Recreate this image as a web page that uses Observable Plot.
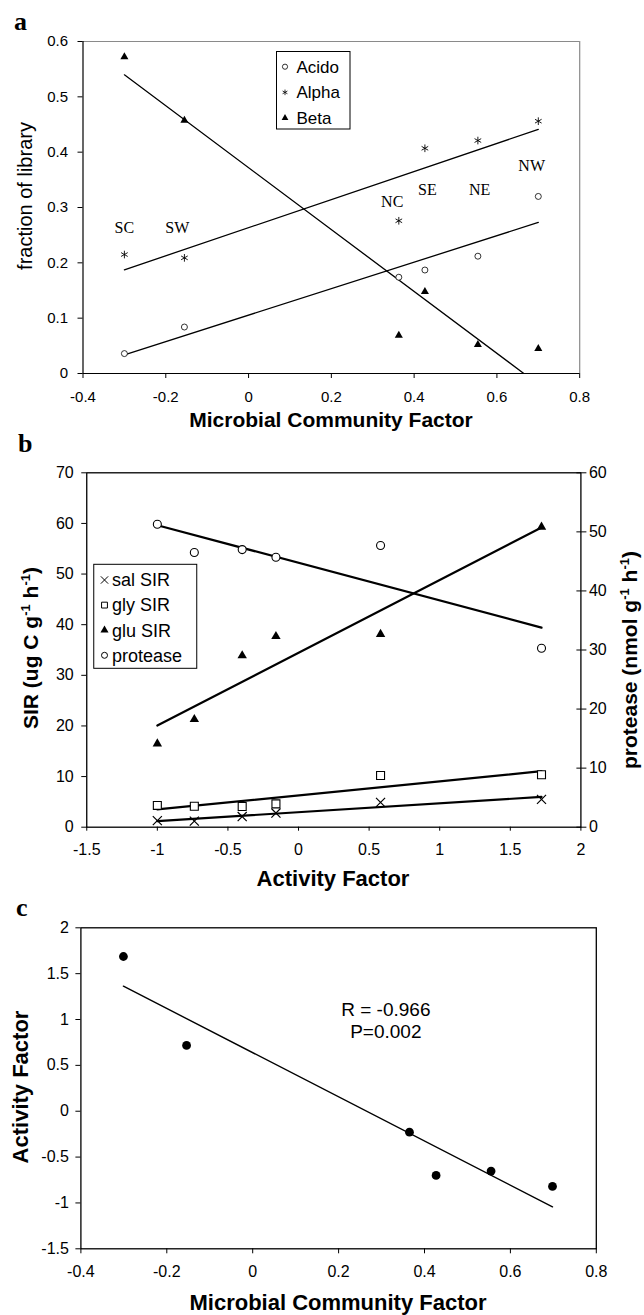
<!DOCTYPE html>
<html><head><meta charset="utf-8">
<script src="https://cdn.jsdelivr.net/npm/d3@7"></script>
<script src="https://cdn.jsdelivr.net/npm/@observablehq/plot@0.6"></script>
<style>
html,body{margin:0;padding:0;background:#fff;}
#fig{position:relative;width:644px;height:1315px;overflow:hidden;background:#fff;}
#fig svg{position:absolute;left:0;overflow:visible;}
</style></head><body><div id="fig"></div>
<script>
// ---------- Panel a data ----------
const mcfA = [-0.30, -0.155, 0.363, 0.426, 0.554, 0.70];
const acido = [0.036, 0.084, 0.174, 0.187, 0.212, 0.320];
const alpha = [0.215, 0.209, 0.276, 0.407, 0.421, 0.456];
const beta = [0.572, 0.4575, 0.069, 0.148, 0.052, 0.045];
const sites = ["SC", "SW", "NC", "SE", "NE", "NW"];
const siteLabelX = [-0.30, -0.172, 0.347, 0.432, 0.558, 0.684];
const siteLabelY = [0.263, 0.263, 0.310, 0.331, 0.331, 0.376];
const aXTicks = [-0.4, -0.2, 0, 0.2, 0.4, 0.6, 0.8];
const aYTicks = [0, 0.1, 0.2, 0.3, 0.4, 0.5, 0.6];
const aLegend = ["Acido", "Alpha", "Beta"];

// ---------- Panel b data ----------
const activity = [-1.0, -0.738, -0.399, -0.16, 0.581, 1.721];
const salSIR = [1.3, 1.2, 2.1, 2.8, 4.9, 5.5];
const glySIR = [4.3, 4.15, 4.1, 4.6, 10.2, 10.35];
const gluSIR = [16.5, 21.3, 33.9, 37.7, 38.1, 59.3];
const protease = [51.3, 46.5, 47.0, 45.7, 47.7, 30.3];
const bXTicks = [-1.5, -1, -0.5, 0, 0.5, 1, 1.5, 2];
const bYTicks = [0, 10, 20, 30, 40, 50, 60, 70];
const bY2Ticks = [0, 10, 20, 30, 40, 50, 60];
const bLegend = ["sal SIR", "gly SIR", "glu SIR", "protease"];

// ---------- Panel c data ----------
const mcfC = [-0.301, -0.154, 0.365, 0.427, 0.555, 0.698];
const activityC = [1.687, 0.717, -0.228, -0.70, -0.653, -0.82];
const cXTicks = [-0.4, -0.2, 0, 0.2, 0.4, 0.6, 0.8];
const cYTicks = [-1.5, -1, -0.5, 0, 0.5, 1, 1.5, 2];
const cStats = ["R = -0.966", "P=0.002"];

// ---------- helpers ----------
const FONT = "'Liberation Sans', Arial, Helvetica, sans-serif";
const SERIF = "'Liberation Serif', 'Times New Roman', serif";
const fig = document.getElementById("fig");
const fmt = d => String(d);
function place(svg, top) { svg.style.top = top + "px"; fig.appendChild(svg); return d3.select(svg); }
function addText(sel, x, y, parts, opts) {
  const t = sel.append("text")
    .attr("transform", `translate(${x},${y})` + (opts.rotate ? ` rotate(${opts.rotate})` : ""))
    .attr("text-anchor", opts.anchor || "middle")
    .attr("font-family", opts.family || FONT)
    .attr("font-size", opts.size)
    .attr("font-weight", opts.weight || "normal")
    .attr("fill", "black");
  if (opts.dy) t.attr("dy", opts.dy);
  let shifted = false;
  for (const p of parts) {
    const sup = Array.isArray(p);
    const s = t.append("tspan").text(sup ? p[0] : p);
    if (sup) { s.attr("font-size", opts.size * 0.62).attr("dy", -opts.size * 0.42); shifted = true; }
    else if (shifted) { s.attr("dy", opts.size * 0.42); shifted = false; }
  }
  return t;
}
function symPath(type, r) { return d3.symbol(type, Math.PI * r * r)(); }

// ================= Panel a =================
const rowsA = mcfA.map((x, i) => ({x, acido: acido[i], alpha: alpha[i], beta: beta[i]}));
const pa = Plot.plot({
  width: 644, height: 430,
  marginTop: 41, marginBottom: 57, marginLeft: 82.5, marginRight: 64.8,
  style: {fontFamily: FONT, fontSize: "15px", color: "black", background: "transparent", overflow: "visible"},
  x: {domain: [-0.4, 0.8]},
  y: {domain: [0, 0.6]},
  marks: [
    Plot.ruleY([0.6], {stroke: "#8a8a8a", strokeWidth: 1.2}),
    Plot.ruleX([0.8], {stroke: "#8a8a8a", strokeWidth: 1.2}),
    Plot.ruleY([0], {stroke: "black", strokeWidth: 1.2}),
    Plot.ruleX([-0.4], {stroke: "black", strokeWidth: 1.2}),
    Plot.axisX(aXTicks, {tickSize: 5, tickPadding: 13, tickFormat: fmt, label: null}),
    Plot.axisY(aYTicks, {tickSize: 5, tickPadding: 10, tickFormat: fmt, label: null}),
    Plot.linearRegressionY(rowsA, {x: "x", y: "acido", ci: 0, stroke: "black", strokeWidth: 1.3}),
    Plot.linearRegressionY(rowsA, {x: "x", y: "alpha", ci: 0, stroke: "black", strokeWidth: 1.3}),
    Plot.linearRegressionY(rowsA, {x: "x", y: "beta", ci: 0, stroke: "black", strokeWidth: 1.3, clip: true}),
    Plot.dot(rowsA, {x: "x", y: "acido", r: 3, fill: "white", stroke: "black", strokeWidth: 0.8}),
    Plot.dot(rowsA, {x: "x", y: "alpha", symbol: "asterisk", r: 3.6, stroke: "black", strokeWidth: 0.9}),
    Plot.dot(rowsA, {x: "x", y: "beta", symbol: "triangle", r: 3, fill: "black", stroke: "none"}),
    Plot.text(sites, {x: (d, i) => siteLabelX[i], y: (d, i) => siteLabelY[i], text: d => d,
      fontFamily: SERIF, fontSize: 16, fill: "black"})
  ]
});
const sa = place(pa, 0);
{
  const g = sa.append("g");
  g.append("rect").attr("x", 276.5).attr("y", 51.5).attr("width", 73.5).attr("height", 77.5)
    .attr("fill", "white").attr("stroke", "black").attr("stroke-width", 1);
  const types = [d3.symbolCircle, d3.symbolAsterisk, d3.symbolTriangle];
  aLegend.forEach((name, i) => {
    const y = 66.7 + i * 25.65;
    const p = g.append("path").attr("transform", `translate(285,${y})`)
      .attr("d", symPath(types[i], i === 2 ? 2.5 : 2.6));
    if (i === 2) p.attr("fill", "black"); else p.attr("fill", "none").attr("stroke", "black").attr("stroke-width", 0.8);
    g.append("text").attr("x", 296.5).attr("y", y).attr("dy", "0.35em").attr("text-anchor", "start")
      .attr("font-family", FONT).attr("font-size", 17).attr("fill", "black").text(name);
  });
  addText(sa, 25, 196, ["fraction of library"], {size: 20, rotate: -90, dy: "0.35em"});
  addText(sa, 331, 427, ["Microbial Community Factor"], {size: 21, weight: "bold"});
  addText(sa, 14, 30, ["a"], {size: 26, weight: "bold", family: SERIF, anchor: "start"});
}

// ================= Panel b =================
const toLeft = v => v * 70 / 60;
const rowsB = activity.map((x, i) => ({x, sal: salSIR[i], gly: glySIR[i], glu: gluSIR[i], prot: toLeft(protease[i])}));
const pb = Plot.plot({
  width: 644, height: 460,
  marginTop: 42.3, marginBottom: 63.3, marginLeft: 86.25, marginRight: 63.6,
  style: {fontFamily: FONT, fontSize: "16px", color: "black", background: "transparent", overflow: "visible"},
  x: {domain: [-1.5, 2]},
  y: {domain: [0, 70]},
  marks: [
    Plot.frame({stroke: "black", strokeWidth: 1.3}),
    Plot.axisX(bXTicks, {tickSize: 4, tickPadding: 12, tickFormat: fmt, label: null}),
    Plot.axisY(bYTicks, {anchor: "left", tickSize: 5, tickPadding: 8, tickFormat: fmt, label: null}),
    Plot.axisY(bY2Ticks.map(toLeft), {anchor: "right", tickSize: 5, tickPadding: 3,
      tickFormat: d => fmt(Math.round(d * 60 / 70)), label: null}),
    Plot.axisY(bY2Ticks.map(toLeft), {anchor: "right", tickSize: -5, tickFormat: () => "", label: null}),
    Plot.linearRegressionY(rowsB, {x: "x", y: "prot", ci: 0, stroke: "black", strokeWidth: 2.2}),
    Plot.linearRegressionY(rowsB, {x: "x", y: "glu", ci: 0, stroke: "black", strokeWidth: 2.2}),
    Plot.linearRegressionY(rowsB, {x: "x", y: "gly", ci: 0, stroke: "black", strokeWidth: 2.2}),
    Plot.linearRegressionY(rowsB, {x: "x", y: "sal", ci: 0, stroke: "black", strokeWidth: 2.2}),
    Plot.dot(rowsB, {x: "x", y: "prot", r: 4, fill: "white", stroke: "black", strokeWidth: 1.1}),
    Plot.dot(rowsB, {x: "x", y: "glu", symbol: "triangle", r: 3.5, fill: "black", stroke: "none"}),
    Plot.dot(rowsB, {x: "x", y: "gly", symbol: "square", r: 4.5, fill: "white", stroke: "black", strokeWidth: 1.1}),
    Plot.dot(rowsB, {x: "x", y: "sal", symbol: "times", r: 4.2, stroke: "black", strokeWidth: 1.2})
  ]
});
const sb = place(pb, 430);
{
  const g = sb.append("g");
  g.append("rect").attr("x", 93.75).attr("y", 134.3).attr("width", 103).attr("height", 104)
    .attr("fill", "white").attr("stroke", "black").attr("stroke-width", 1);
  const types = [d3.symbolTimes, d3.symbolSquare, d3.symbolTriangle, d3.symbolCircle];
  const rs = [3.4, 3.3, 3.0, 3.0];
  bLegend.forEach((name, i) => {
    const y = 150 + i * 25.1;
    const p = g.append("path").attr("transform", `translate(104.5,${y})`).attr("d", symPath(types[i], rs[i]));
    if (i === 2) p.attr("fill", "black");
    else p.attr("fill", "none").attr("stroke", "black").attr("stroke-width", 1);
    g.append("text").attr("x", 112).attr("y", y).attr("dy", "0.35em").attr("text-anchor", "start")
      .attr("font-family", FONT).attr("font-size", 18).attr("fill", "black").text(name);
  });
  addText(sb, 31, 218, ["SIR (ug C g", ["-1"], " h", ["-1"], ")"], {size: 21, weight: "bold", rotate: -90, dy: "0.35em"});
  addText(sb, 630, 230, ["protease (nmol g", ["-1"], " h", ["-1"], ")"], {size: 21, weight: "bold", rotate: -90, dy: "0.35em"});
  addText(sb, 333, 456, ["Activity Factor"], {size: 22, weight: "bold"});
  addText(sb, 18, 22, ["b"], {size: 26, weight: "bold", family: SERIF, anchor: "start"});
}

// ================= Panel c =================
const rowsC = mcfC.map((x, i) => ({x, y: activityC[i]}));
const pc = Plot.plot({
  width: 644, height: 425,
  marginTop: 37.3, marginBottom: 66.7, marginLeft: 80.4, marginRight: 48.2,
  style: {fontFamily: FONT, fontSize: "16px", color: "black", background: "transparent", overflow: "visible"},
  x: {domain: [-0.4, 0.8]},
  y: {domain: [-1.5, 2]},
  marks: [
    Plot.frame({stroke: "black", strokeWidth: 1.3}),
    Plot.axisX(cXTicks, {tickSize: 5, tickPadding: 12, tickFormat: fmt, label: null}),
    Plot.axisY(cYTicks, {tickSize: 5, tickPadding: 7, tickFormat: fmt, label: null}),
    Plot.linearRegressionY(rowsC, {x: "x", y: "y", ci: 0, stroke: "black", strokeWidth: 1.4}),
    Plot.dot(rowsC, {x: "x", y: "y", r: 4.4, fill: "black", stroke: "none"}),
    Plot.text([cStats.join("\n")], {x: () => 0.31, y: () => 0.995, text: d => d,
      fontSize: 19, lineHeight: 1.18, fill: "black"})
  ]
});
const sc = place(pc, 890);
{
  addText(sc, 20, 197, ["Activity Factor"], {size: 22, weight: "bold", rotate: -90, dy: "0.35em"});
  addText(sc, 338, 420, ["Microbial Community Factor"], {size: 22, weight: "bold"});
  addText(sc, 16, 26, ["c"], {size: 26, weight: "bold", family: SERIF, anchor: "start"});
}
</script></body></html>
